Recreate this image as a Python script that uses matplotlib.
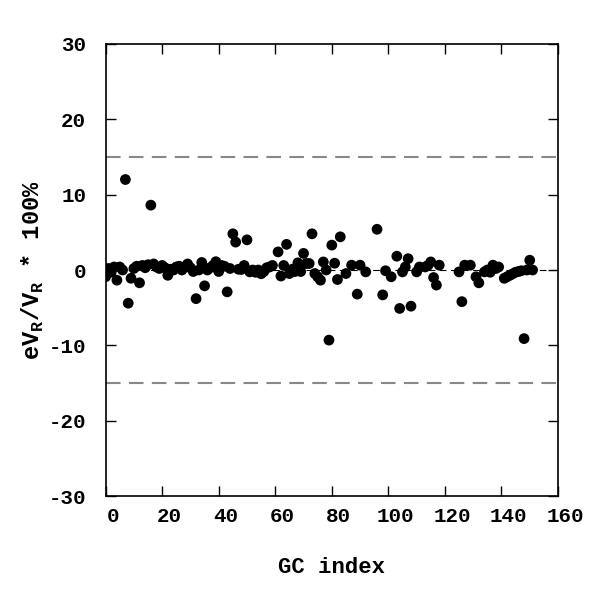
import numpy as np
import matplotlib
matplotlib.use("Agg")
import matplotlib.pyplot as plt
from matplotlib.transforms import ScaledTranslation

plt.rcParams["font.family"] = ["Liberation Mono", "DejaVu Sans Mono"]
plt.rcParams["font.weight"] = "bold"
plt.rcParams["axes.unicode_minus"] = False
plt.rcParams["mathtext.fontset"] = "custom"
plt.rcParams["mathtext.rm"] = "Liberation Mono:bold"

# GC index and relative error eV_R / V_R * 100
gc_index = [
    0, 1, 2, 3, 4, 5, 6, 7, 8, 9, 10, 11, 12, 13, 14, 15, 16, 17, 18, 19,
    20, 21, 22, 23, 24, 25, 26, 27, 28, 29, 30, 31, 32, 33, 34, 35, 36, 37, 38, 39,
    40, 41, 42, 43, 44, 45, 46, 47, 48, 49, 50, 51, 52, 53, 54, 55, 56, 57, 58, 59,
    61, 62, 63, 64, 65, 66, 67, 68, 69, 70, 71, 72, 73, 74, 75, 76, 77, 78, 79, 80,
    81, 82, 83, 85, 87, 89, 90, 92, 96, 98, 99, 101, 103, 104, 105, 106, 107, 108,
    110, 111, 113, 114, 115, 116, 117, 118, 125, 126, 127, 129, 131, 132, 134, 135,
    136, 137, 138, 139, 141, 142, 143, 144, 145, 146, 147, 148, 149, 150, 151,
]
err_pct = [
    -0.9, 0.2, -0.3, 0.4, -1.35, 0.4, 0.0, 12.0, -4.4, -1.1, 0.2, 0.5, -1.7, 0.6, 0.3, 0.7, 8.6, 0.8, 0.4, 0.2,
    0.6, 0.3, -0.7, 0.1, 0.0, 0.4, 0.5, 0.0, 0.4, 0.8, 0.3, -0.2, -3.8, 0.0, 1.0, -2.1, 0.0, 0.3, 0.6, 1.1,
    -0.2, 0.6, 0.5, -2.9, 0.2, 4.8, 3.7, 0.1, 0.07, 0.6, 4.0, -0.25, 0.0, -0.3, 0.0, -0.5, -0.2, 0.3, 0.4, 0.6,
    2.4, -0.8, 0.6, 3.4, -0.47, 0.1, -0.2, 0.95, -0.2, 2.2, 0.86, 0.86, 4.8, -0.47, -0.9, -1.35, 1.07, 0.0, -9.3, 3.3,
    0.9, -1.26, 4.4, -0.47, 0.64, -3.2, 0.64, -0.25, 5.4, -3.3, -0.1, -0.9, 1.83, -5.1, -0.25, 0.4, 1.5, -4.8,
    -0.25, 0.4, 0.4, 0.6, 1.07, -1.0, -2.0, 0.64, -0.25, -4.2, 0.64, 0.64, -0.9, -1.7, -0.25, 0.0,
    -0.3, 0.64, 0.2, 0.4, -1.1, -0.9, -0.7, -0.5, -0.3, -0.2, -0.1, -9.1, 0.0, 1.3, 0.0,
]
limit_pct = 15

fig = plt.figure(figsize=(6, 6), dpi=100)
ax = fig.add_axes([0.176, 0.173, 0.754, 0.754])

ax.axhline(0, color="black", lw=0.8, ls=(0, (6, 4)), zorder=1)
for lv in (limit_pct, -limit_pct):
    ax.axhline(lv, color="#888888", lw=1.5, ls=(0, (7, 4)), zorder=1)

ax.scatter(gc_index, err_pct, s=60, color="black", edgecolors="none", zorder=3)

ax.set_xlim(0, 160)
ax.set_ylim(-30, 30)
ax.set_xticks(np.arange(0, 161, 20))
ax.set_yticks(np.arange(-30, 31, 10))
ax.tick_params(direction="in", length=7, width=1, top=True, right=True,
               labelsize=15)
ax.tick_params(axis="x", pad=8)
ax.tick_params(axis="y", pad=14)
for lab in ax.get_xticklabels():
    lab.set_transform(lab.get_transform() + ScaledTranslation(0.07, 0, fig.dpi_scale_trans))
for sp in ax.spines.values():
    sp.set_linewidth(1.2)

ax.set_xlabel("GC index", fontsize=16, fontweight="bold", labelpad=22)
ax.set_ylabel(r"eV$_\mathregular{R}$/V$_\mathregular{R}$ * 100%", fontsize=17,
              fontweight="bold", labelpad=2)

fig.savefig("out.png", dpi=100)
